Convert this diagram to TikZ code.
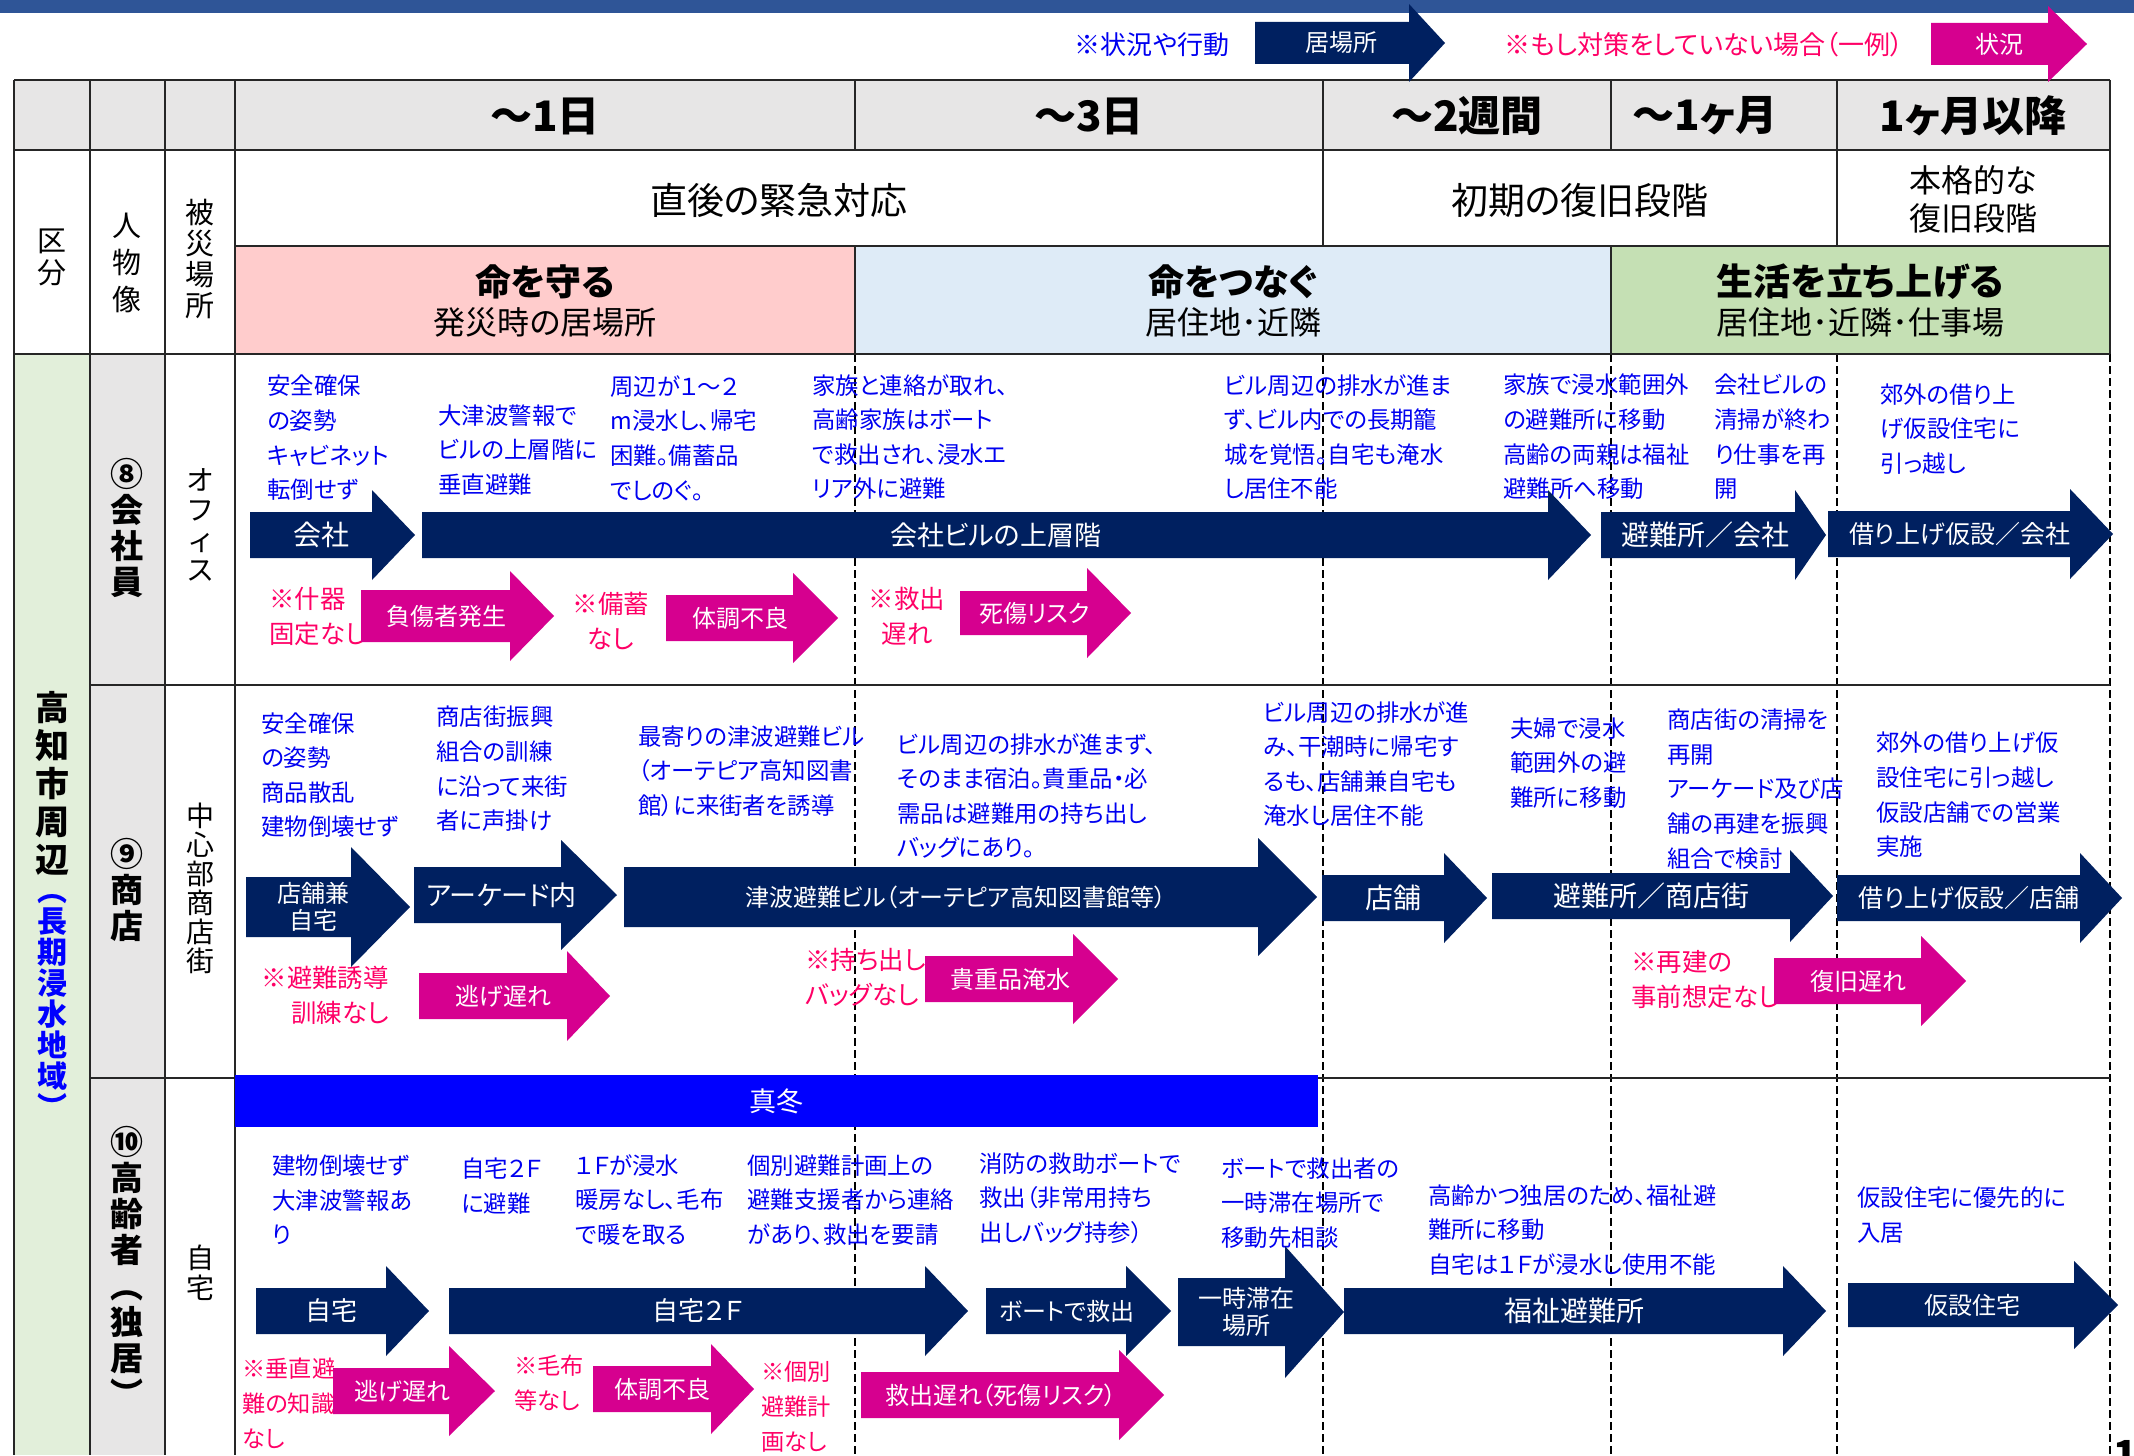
\documentclass[tikz,border=0pt]{standalone}
\usepackage{fontspec}
\setmainfont{Noto Sans CJK JP}[RawFeature=+palt]

\definecolor{darknavy}{HTML}{002060}
\definecolor{hotpink}{HTML}{D6008F}
\definecolor{noteblue}{HTML}{0000F0}
\definecolor{warnred}{HTML}{FF0066}
\definecolor{bandblue}{HTML}{2F5597}
\definecolor{headgray}{HTML}{E7E6E6}
\definecolor{lifepink}{HTML}{FFCCCC}
\definecolor{linkblue}{HTML}{DEEBF7}
\definecolor{livegreen}{HTML}{C5E0B4}
\definecolor{areagreen}{HTML}{E2EFDA}
\definecolor{winterblue}{HTML}{0000FF}

\newcommand{\fsz}[1]{\fontsize{#1}{#1}\selectfont}
% name, colour, start, shaft end, tip, centre y, half shaft, half head, text
\newcommand{\fatarrow}[9]{%
  \fill[#2] (#3,#6-#7) -- (#4,#6-#7) -- (#4,#6-#8) -- (#5,#6)
    -- (#4,#6+#8) -- (#4,#6+#7) -- (#3,#6+#7) -- cycle;
  \node[arrowtext] (#1) at ({(#3+#4)/2+(#5-#4)/4},#6) {#9};}

\begin{document}
\begin{tikzpicture}[x=0.5pt, y=-0.5pt,
  note/.style={text=noteblue, font=\fontsize{11.7}{17.3}\selectfont, align=left, anchor=west, inner sep=0},
  warn/.style={text=warnred, font=\fontsize{12.7}{17.5}\selectfont, align=left, anchor=west, inner sep=0},
  arrowtext/.style={text=white, font=\fontsize{12}{13.5}\selectfont, align=center, inner sep=0},
  stack/.style={align=center, inner sep=0, font=\fontsize{14}{15}\selectfont},
  boldstack/.style={align=center, inner sep=0, font=\bfseries\fontsize{16.5}{18}\selectfont},
  period/.style={font=\bfseries\fontsize{21}{21}\selectfont},
  rule/.style={line width=1.3pt, black!85},
  vline/.style={line width=1pt, black!85},
  dashline/.style={line width=1pt, dash pattern=on 4pt off 2pt}]
\useasboundingbox (0,0) rectangle (2134,1455);

% fills
\fill[bandblue] (0,0) rectangle (2134,13);
\fill[headgray] (14,80) rectangle (2110,150);
\fill[lifepink] (235,246) rectangle (855,354);
\fill[linkblue] (855,246) rectangle (1611,354);
\fill[livegreen] (1611,246) rectangle (2110,354);
\fill[areagreen] (14,354) rectangle (90,1455);
\fill[headgray] (90,354) rectangle (165,1455);

% period lines
\foreach \x in {855,1323,1611,1837,2110}
  \draw[dashline] (\x,354) -- (\x,1455);
\foreach \y in {80,150,354}
  \draw[rule] (14,\y) -- (2110,\y);
\draw[rule] (235,246) -- (2110,246);
\draw[rule] (90,685) -- (2110,685);
\draw[rule] (90,1078) -- (2110,1078);
\foreach \x in {14,90,165,235}
  \draw[vline] (\x,80) -- (\x,1455);
\draw[vline] (855,80) -- (855,150) (855,246) -- (855,354);
\draw[vline] (1611,80) -- (1611,150) (1611,246) -- (1611,354);
\draw[vline] (1323,80) -- (1323,246);
\draw[vline] (1837,80) -- (1837,246);
\draw[vline] (2110,80) -- (2110,354);

% winter band
\fill[winterblue] (235,1075) rectangle (1318,1127);
\node[text=white, font=\fsz{13.5}] (fuyu) at (776,1101) {真冬};

% legend
\node[text=noteblue, font=\fsz{13}] (legnote) at (1152,45) {※状況や行動};
\fatarrow{legnavy}{darknavy}{1255}{1409}{1445}{43}{21}{39}{居場所}
\node[text=warnred, font=\fsz{13}] (legwarn) at (1704,45) {※もし対策をしていない場合（一例）};
\fatarrow{legpink}{hotpink}{1931}{2048}{2087}{44}{21}{38}{状況}

% header
\node[period] (d1) at (545,116) {～1日};
\node[period] (d3) at (1089,116) {～3日};
\node[period] (w2) at (1467,116) {～2週間};
\node[period] (m1) at (1705,116) {～1ヶ月};
\node[period] (m1p) at (1973,116) {1ヶ月以降};
\node[font=\fsz{18.5}] (kinkyu) at (779,200) {直後の緊急対応};
\node[font=\fsz{18.5}] (shoki) at (1580,200) {初期の復旧段階};
\node[align=center, font=\fontsize{16}{19}\selectfont] (honkaku) at (1973,199) {本格的な\\復旧段階};
\node[font=\bfseries\fsz{18}] (mamoru) at (545,282) {命を守る};
\node[font=\fsz{16}] (mamoru-sub) at (545,322) {発災時の居場所};
\node[font=\bfseries\fsz{18}] (tsunagu) at (1233,282) {命をつなぐ};
\node[font=\fsz{16}] (tsunagu-sub) at (1233,322) {居住地･近隣};
\node[font=\bfseries\fsz{18.5}] (tateru) at (1860,282) {生活を立ち上げる};
\node[font=\fsz{16}] (tateru-sub) at (1860,322) {居住地･近隣･仕事場};

% left columns
\node[stack, font=\fontsize{14.5}{16}\selectfont] (kubun) at (52,257) {区\\分};
\node[stack, font=\fontsize{14.5}{18.5}\selectfont] (jinbutsu) at (127,263) {人\\物\\像};
\node[stack, font=\fontsize{14.5}{15.5}\selectfont] (hisai) at (200,259) {被\\災\\場\\所};
\node[boldstack, font=\bfseries\fontsize{17}{19}\selectfont] (area) at (52,783) {高\\知\\市\\周\\辺};
\node[boldstack, text=winterblue, font=\bfseries\fontsize{15}{15.5}\selectfont] (area-sub) at (52,1006) {︵\\長\\期\\浸\\水\\地\\域\\︶};
\node[boldstack] (p8) at (127,528) {⑧\\会\\社\\員};
\node[boldstack] (p9) at (127,890) {⑨\\商\\店};
\node[boldstack] (p10) at (127,1266) {⑩\\高\\齢\\者\\︵\\独\\居\\︶};
\node[stack] (office) at (200,525) {オ\\フ\\ィ\\ス};
\node[stack, font=\fontsize{14}{14.5}\selectfont] (shoutengai) at (200,888) {中\\心\\部\\商\\店\\街};
\node[stack] (home) at (200,1273) {自\\宅};

% row 8 office worker
\node[note] (n8a) at (267,438) {安全確保\\の姿勢\\キャビネット\\転倒せず};
\node[note] (n8b) at (438,450) {大津波警報で\\ビルの上層階に\\垂直避難};
\node[note] (n8c) at (610,438) {周辺が１～２\\m浸水し、帰宅\\困難。備蓄品\\でしのぐ。};
\node[note] (n8d) at (812,437) {家族と連絡が取れ、\\高齢家族はボート\\で救出され、浸水エ\\リア外に避難};
\node[note] (n8e) at (1224,437) {ビル周辺の排水が進ま\\ず、ビル内での長期籠\\城を覚悟。自宅も淹水\\し居住不能};
\node[note] (n8f) at (1503,437) {家族で浸水範囲外\\の避難所に移動\\高齢の両親は福祉\\避難所へ移動};
\node[note] (n8g) at (1714,437) {会社ビルの\\清掃が終わ\\り仕事を再\\開};
\node[note] (n8h) at (1880,429) {郊外の借り上\\げ仮設住宅に\\引っ越し};
\fatarrow{kaisha}{darknavy}{250}{372}{415}{535}{23}{45}{\fsz{14}会社}
\fatarrow{joso}{darknavy}{422}{1548}{1591}{535}{23}{45}{\fsz{13.5}会社ビルの上層階}
\fatarrow{hinan8}{darknavy}{1601}{1795}{1826}{535}{23}{45}{\fsz{14}避難所／会社}
\fatarrow{kariage8}{darknavy}{1828}{2070}{2113}{534}{23}{45}{\fsz{12.5}借り上げ仮設／会社}
\node[warn] (w8a) at (269,616) {※什器\\固定なし};
\fatarrow{fushou}{hotpink}{361}{510}{554}{616}{26}{45}{負傷者発生}
\node[warn, align=center, anchor=center] (w8b) at (611,621) {※備蓄\\なし};
\fatarrow{taichou8}{hotpink}{666}{793}{838}{618}{23}{45}{体調不良}
\node[warn, align=center, anchor=center] (w8c) at (907,616) {※救出\\遅れ};
\fatarrow{shishou}{hotpink}{960}{1087}{1131}{613}{22}{45}{死傷リスク}

% row 9 shop
\node[note] (n9a) at (261,775) {安全確保\\の姿勢\\商品散乱\\建物倒壊せず};
\node[note] (n9b) at (436,769) {商店街振興\\組合の訓練\\に沿って来街\\者に声掛け};
\node[note] (n9c) at (638,771) {最寄りの津波避難ビル\\（オーテピア高知図書\\館）に来街者を誘導};
\node[note] (n9d) at (897,796) {ビル周辺の排水が進まず、\\そのまま宿泊。貴重品・必\\需品は避難用の持ち出し\\バッグにあり。};
\node[note] (n9e) at (1263,764) {ビル周辺の排水が進\\み、干潮時に帰宅す\\るも、店舗兼自宅も\\淹水し居住不能};
\node[note] (n9f) at (1510,763) {夫婦で浸水\\範囲外の避\\難所に移動};
\node[note] (n9g) at (1667,789) {商店街の清掃を\\再開\\アーケード及び店\\舗の再建を振興\\組合で検討};
\node[note] (n9h) at (1876,795) {郊外の借り上げ仮\\設住宅に引っ越し\\仮設店舗での営業\\実施};
\fatarrow{kenyou}{darknavy}{246}{351}{410}{907}{30}{60}{店舗兼\\自宅}
\fatarrow{arcade}{darknavy}{414}{561}{617}{895}{28}{55}{\fsz{13.5}アーケード内}
\fatarrow{tsunamibiru}{darknavy}{624}{1258}{1317}{897}{30}{59}{津波避難ビル（オーテピア高知図書館等）}
\fatarrow{tenpo}{darknavy}{1322}{1444}{1487}{898}{23}{45}{\fsz{14}店舗}
\fatarrow{hinan9}{darknavy}{1492}{1790}{1833}{896}{23}{46}{\fsz{14}避難所／商店街}
\fatarrow{kariage9}{darknavy}{1837}{2080}{2122}{898}{23}{45}{\fsz{12.5}借り上げ仮設／店舗}
\node[warn, align=right, anchor=east] (w9a) at (389,995) {※避難誘導\\訓練なし};
\fatarrow{nigeokure9}{hotpink}{419}{567}{610}{996}{23}{45}{逃げ遅れ}
\node[warn] (w9b) at (805,977) {※持ち出し\\バッグなし};
\fatarrow{kichouhin}{hotpink}{925}{1073}{1118}{979}{23}{45}{貴重品淹水}
\node[warn] (w9c) at (1631,980) {※再建の\\事前想定なし};
\fatarrow{fukkyu}{hotpink}{1774}{1921}{1966}{981}{23}{45}{復旧遅れ}

% row 10 elderly living alone
\node[note] (n10a) at (272,1200) {建物倒壊せず\\大津波警報あ\\り};
\node[note] (n10b) at (461,1186) {自宅２Ｆ\\に避難};
\node[note] (n10c) at (575,1200) {１Ｆが浸水\\暖房なし、毛布\\で暖を取る};
\node[note] (n10d) at (747,1200) {個別避難計画上の\\避難支援者から連絡\\があり、救出を要請};
\node[note] (n10e) at (979,1198) {消防の救助ボートで\\救出（非常用持ち\\出しバッグ持参）};
\node[note] (n10f) at (1221,1203) {ボートで救出者の\\一時滞在場所で\\移動先相談};
\node[note] (n10g) at (1428,1230) {高齢かつ独居のため、福祉避\\難所に移動\\自宅は１Ｆが浸水し使用不能};
\node[note] (n10h) at (1857,1215) {仮設住宅に優先的に\\入居};
\fatarrow{jitaku}{darknavy}{256}{386}{429}{1311}{23}{45}{\fsz{13}自宅}
\fatarrow{jitaku2f}{darknavy}{449}{925}{968}{1311}{23}{45}{\fsz{13}自宅２Ｆ}
\fatarrow{boat}{darknavy}{986}{1126}{1171}{1311}{23}{45}{ボートで救出}
\fatarrow{ichiji}{darknavy}{1178}{1285}{1344}{1312}{34}{66}{一時滞在\\場所}
\fatarrow{fukushi}{darknavy}{1344}{1783}{1826}{1311}{23}{45}{\fsz{14}福祉避難所}
\fatarrow{kasetsu}{darknavy}{1848}{2074}{2118}{1305}{22}{44}{仮設住宅}
\node[warn, font=\fontsize{11.6}{17.5}\selectfont] (w10a) at (242,1403) {※垂直避\\難の知識\\なし};
\fatarrow{nigeokure10}{hotpink}{333}{449}{495}{1391}{23}{45}{逃げ遅れ}
\node[warn, font=\fontsize{11.6}{17.5}\selectfont] (w10b) at (514,1383) {※毛布\\等なし};
\fatarrow{taichou10}{hotpink}{593}{711}{754}{1389}{23}{45}{体調不良}
\node[warn, font=\fontsize{11.6}{17.5}\selectfont] (w10c) at (761,1407) {※個別\\避難計\\画なし};
\fatarrow{kyushutsu}{hotpink}{861}{1119}{1164}{1395}{23}{45}{救出遅れ（死傷リスク）}

\node[font=\bfseries\fsz{20}, anchor=north west, inner sep=0] (pageno) at (2113,1440) {1};
\end{tikzpicture}
\end{document}
